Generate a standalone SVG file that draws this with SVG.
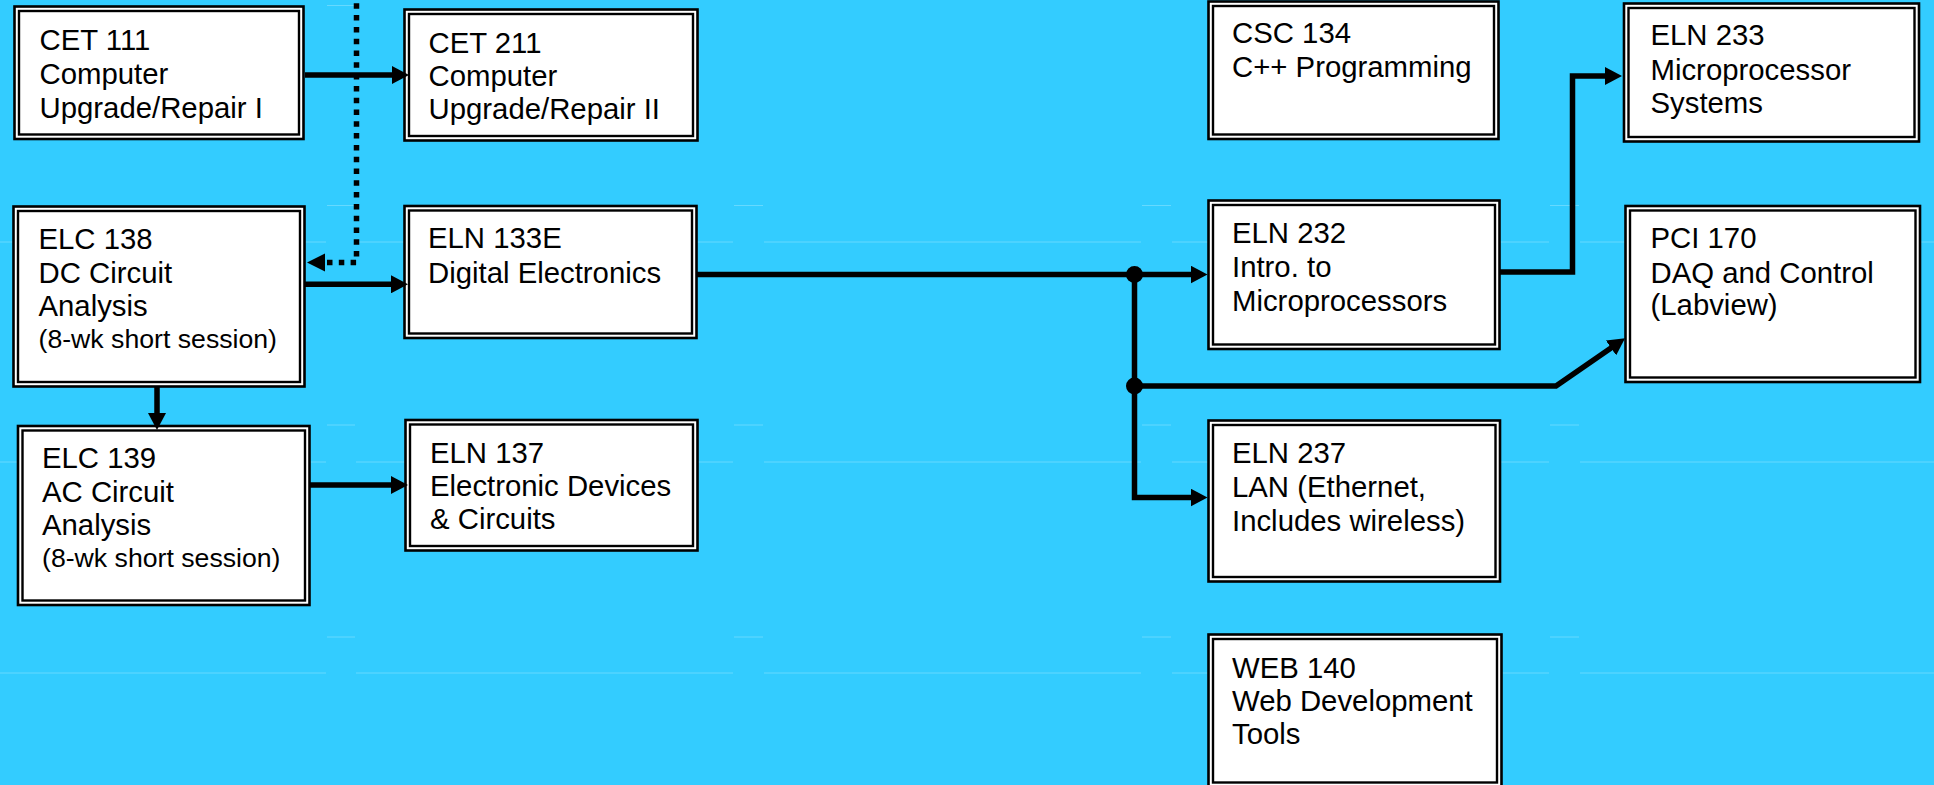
<svg xmlns="http://www.w3.org/2000/svg" width="1934" height="785" viewBox="0 0 1934 785">
<defs>
<style>
.bo{fill:#fff;stroke:#000;stroke-width:2.6}
.bi{fill:#fff;stroke:#000;stroke-width:2.4}
.t{font-family:"Liberation Sans",Arial,sans-serif;font-size:29.33px;fill:#000}
.s{font-size:26.67px}
.c{fill:none;stroke:#000;stroke-width:5.5;stroke-linejoin:miter;stroke-linecap:butt}
.d{fill:none;stroke:#000;stroke-width:5.5;stroke-dasharray:5.5 6.3;stroke-dashoffset:8.5}
.g{fill:none;stroke:#66D9FF;stroke-width:1}
</style>
<marker id="ah" markerUnits="userSpaceOnUse" markerWidth="18" markerHeight="18" viewBox="0 0 18 18" refX="7" refY="9" orient="auto">
<path d="M0,0 L17,9 L0,18 Z" fill="#000"/>
</marker>
</defs>
<rect x="0" y="0" width="1934" height="785" fill="#33CCFF"/>

<g id="guides">
<path class="g" d="M327,5.5 H355 M327,205.5 H355 M734,205.5 H763 M1142,205.5 H1171 M1550,205.5 H1579 M327,425 H355 M734,425 H763 M1142,425 H1171 M1550,425 H1579 M327,637 H355 M734,637 H763 M1142,637 H1171 M1550,637 H1579"/>
<path class="g" d="M0,242 H326 M356,242 H733 M764,242 H1141 M1172,242 H1549 M1580,242 H1934 M0,462 H326 M356,462 H733 M764,462 H1141 M1172,462 H1549 M1580,462 H1934 M0,673 H326 M356,673 H733 M764,673 H1141 M1172,673 H1549 M1580,673 H1934"/>
</g>

<g id="cet111">
<rect class="bo" x="14.5" y="6.5" width="289" height="132.5"/>
<rect class="bi" x="19" y="11" width="280" height="123.5"/>
<text class="t"><tspan x="39.5" y="50">CET 111</tspan><tspan x="39.5" y="84">Computer</tspan><tspan x="39.5" y="118">Upgrade/Repair I</tspan></text>
</g>

<g id="cet211">
<rect class="bo" x="404.5" y="9.5" width="293" height="131"/>
<rect class="bi" x="409" y="14" width="284" height="122"/>
<text class="t"><tspan x="428.5" y="52.7">CET 211</tspan><tspan x="428.5" y="86">Computer</tspan><tspan x="428.5" y="119.3">Upgrade/Repair II</tspan></text>
</g>

<g id="elc138">
<rect class="bo" x="13.5" y="206.5" width="291" height="180"/>
<rect class="bi" x="18" y="211" width="282" height="171"/>
<text class="t"><tspan x="38.5" y="249.3">ELC 138</tspan><tspan x="38.5" y="283.3">DC Circuit</tspan><tspan x="38.5" y="316">Analysis</tspan><tspan class="s" x="38.5" y="348.3">(8-wk short session)</tspan></text>
</g>

<g id="eln133e">
<rect class="bo" x="404.5" y="206" width="292" height="132"/>
<rect class="bi" x="409" y="210.5" width="283" height="123"/>
<text class="t"><tspan x="428" y="248.3">ELN 133E</tspan><tspan x="428" y="282.7">Digital Electronics</tspan></text>
</g>

<g id="elc139">
<rect class="bo" x="18" y="426" width="291.5" height="179"/>
<rect class="bi" x="22.5" y="430.5" width="282.5" height="170"/>
<text class="t"><tspan x="42" y="468.3">ELC 139</tspan><tspan x="42" y="501.7">AC Circuit</tspan><tspan x="42" y="535">Analysis</tspan><tspan class="s" x="42" y="566.7">(8-wk short session)</tspan></text>
</g>

<g id="eln137">
<rect class="bo" x="405.5" y="420" width="292" height="130.5"/>
<rect class="bi" x="410" y="424.5" width="283" height="121.5"/>
<text class="t"><tspan x="430" y="462.7">ELN 137</tspan><tspan x="430" y="496">Electronic Devices</tspan><tspan x="430" y="529.3">&amp; Circuits</tspan></text>
</g>

<g id="csc134">
<rect class="bo" x="1208.5" y="1.5" width="290" height="137.5"/>
<rect class="bi" x="1213" y="6" width="281" height="128.5"/>
<text class="t"><tspan x="1232" y="42.7">CSC 134</tspan><tspan x="1232" y="77.3">C++ Programming</tspan></text>
</g>

<g id="eln233">
<rect class="bo" x="1624" y="3.5" width="295" height="138"/>
<rect class="bi" x="1628.5" y="8" width="286" height="129"/>
<text class="t"><tspan x="1650.5" y="45">ELN 233</tspan><tspan x="1650.5" y="80">Microprocessor</tspan><tspan x="1650.5" y="113.3">Systems</tspan></text>
</g>

<g id="eln232">
<rect class="bo" x="1208.5" y="200.5" width="291" height="148.5"/>
<rect class="bi" x="1213" y="205" width="282" height="139.5"/>
<text class="t"><tspan x="1232" y="243.3">ELN 232</tspan><tspan x="1232" y="277.3">Intro. to</tspan><tspan x="1232" y="310.7">Microprocessors</tspan></text>
</g>

<g id="pci170">
<rect class="bo" x="1625.5" y="206" width="294.5" height="176"/>
<rect class="bi" x="1630" y="210.5" width="285.5" height="167"/>
<text class="t"><tspan x="1650.5" y="248.3">PCI 170</tspan><tspan x="1650.5" y="282.7">DAQ and Control</tspan><tspan x="1650.5" y="315">(Labview)</tspan></text>
</g>

<g id="eln237">
<rect class="bo" x="1208.5" y="420.5" width="291.5" height="161"/>
<rect class="bi" x="1213" y="425" width="282.5" height="152"/>
<text class="t"><tspan x="1232" y="462.7">ELN 237</tspan><tspan x="1232" y="497.3">LAN (Ethernet,</tspan><tspan x="1232" y="530.7">Includes wireless)</tspan></text>
</g>

<g id="web140">
<rect class="bo" x="1208.5" y="634.5" width="293" height="152.5"/>
<rect class="bi" x="1213" y="639" width="284" height="143.5"/>
<text class="t"><tspan x="1232" y="677.7">WEB 140</tspan><tspan x="1232" y="711">Web Development</tspan><tspan x="1232" y="744.3">Tools</tspan></text>
</g>

<g id="connectors">
<path class="c" d="M305,75 H399" marker-end="url(#ah)"/>
<path class="d" d="M356.5,0 V262.5 H325"/>
<polygon points="307,262.5 325,253.5 325,271.5" fill="#000"/>
<path class="c" d="M305,284.3 H398" marker-end="url(#ah)"/>
<path class="c" d="M157,386 V420" marker-end="url(#ah)"/>
<path class="c" d="M309.5,485 H398" marker-end="url(#ah)"/>
<path class="c" d="M697,274.5 H1197.5" marker-end="url(#ah)"/>
<path class="c" d="M1134.5,274.5 V497.5 H1197.5" marker-end="url(#ah)"/>
<path class="c" d="M1134.5,386 H1556 L1616.8,344" marker-end="url(#ah)"/>
<path class="c" d="M1500,272 H1572.5 V76 H1612" marker-end="url(#ah)"/>
<circle cx="1134.5" cy="274.5" r="8.5" fill="#000"/>
<circle cx="1134.5" cy="386" r="8.5" fill="#000"/>
</g>
</svg>
